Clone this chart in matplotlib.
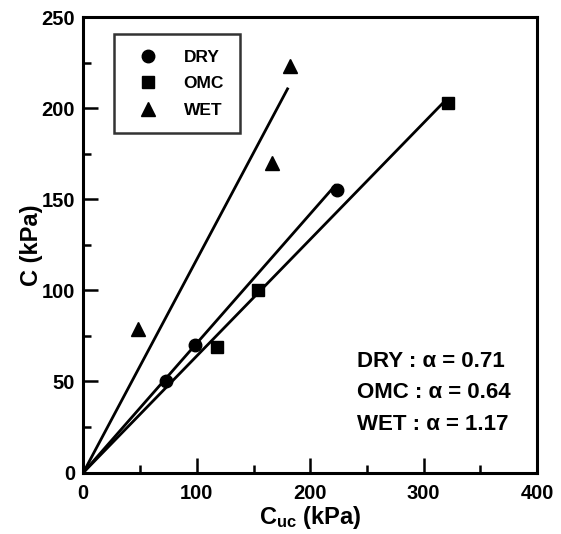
import matplotlib
matplotlib.use('Agg')
import matplotlib.pyplot as plt
import numpy as np

plt.rcParams['font.family'] = ['Liberation Sans', 'DejaVu Sans']
plt.rcParams['font.weight'] = 'bold'
plt.rcParams['mathtext.fontset'] = 'custom'
plt.rcParams['mathtext.rm'] = 'Liberation Sans:bold'
plt.rcParams['mathtext.default'] = 'rm'

# data
dry_x = [73, 98, 224]
dry_y = [50, 70, 155]
omc_x = [118, 154, 321]
omc_y = [69, 100, 203]
wet_x = [48, 166, 182]
wet_y = [79, 170, 223]

# fitted slopes (C = alpha * Cuc)
alpha_dry = 0.71
alpha_omc = 0.64
alpha_wet = 1.17
line_end = {'DRY': 222, 'OMC': 320, 'WET': 180}

fig = plt.figure(figsize=(5.61, 5.34), dpi=100)
ax = fig.add_axes([0.1485, 0.115, 0.809, 0.853])

# fit lines through origin
for name, a in [('DRY', alpha_dry), ('OMC', alpha_omc), ('WET', alpha_wet)]:
    xx = np.array([0, line_end[name]])
    ax.plot(xx, a * xx, color='black', lw=2.0, zorder=2)

ax.plot(dry_x, dry_y, 'o', color='black', ms=9, label='DRY', zorder=3)
ax.plot(omc_x, omc_y, 's', color='black', ms=8.5, label='OMC', zorder=3)
ax.plot(wet_x, wet_y, '^', color='black', ms=10, label='WET', zorder=3)

ax.set_xlim(0, 400)
ax.set_ylim(0, 250)
ax.set_xticks([0, 100, 200, 300, 400])
ax.set_xticks([50, 150, 250, 350], minor=True)
ax.set_yticks([0, 50, 100, 150, 200, 250])
ax.set_yticks([25, 75, 125, 175, 225], minor=True)
ax.tick_params(which='both', direction='in', width=1.8, labelsize=14.5)
ax.tick_params(which='major', length=11)
ax.tick_params(which='minor', length=6)
ax.tick_params(axis='x', which='major', pad=8)
ax.tick_params(axis='y', which='major', pad=6)
for sp in ax.spines.values():
    sp.set_linewidth(2.2)

ax.set_xlabel(r'$\mathrm{C_{uc}}$ (kPa)', fontsize=17, fontweight='bold', labelpad=1)
ax.set_ylabel('C (kPa)', fontsize=17, fontweight='bold', labelpad=-1)

leg = ax.legend(loc='upper left', bbox_to_anchor=(0.068, 0.963), borderaxespad=0,
                fontsize=12.5, frameon=True, fancybox=False, edgecolor='black',
                handletextpad=1.0, labelspacing=0.65, borderpad=0.9, handlelength=2.1)
leg.get_frame().set_linewidth(1.8)

ax.text(241, 57.9, 'DRY : α = %.2f' % alpha_dry, fontsize=16, fontweight='bold', va='baseline')
ax.text(241, 41.0, 'OMC : α = %.2f' % alpha_omc, fontsize=16, fontweight='bold', va='baseline')
ax.text(241, 23.4, 'WET : α = %.2f' % alpha_wet, fontsize=16, fontweight='bold', va='baseline')

fig.savefig('out.png', dpi=100)
